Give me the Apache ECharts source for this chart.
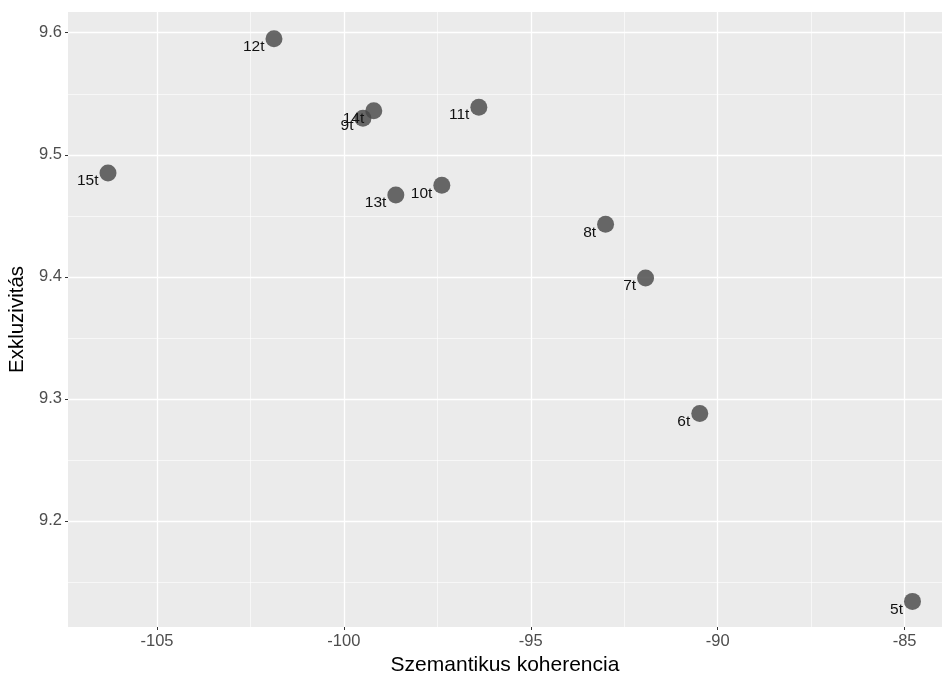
<!DOCTYPE html>
<html>
<head>
<meta charset="utf-8">
<script src="https://cdn.jsdelivr.net/npm/echarts@6/dist/echarts.min.js"></script>
<style>
  html, body { margin: 0; padding: 0; background: #ffffff; }
  #chart { width: 944px; height: 675px; }
</style>
</head>
<body>
<div id="chart"></div>
<script>
// Topic-model diagnostics: semantic coherence vs. exclusivity per number of topics
const topics      = ['5t', '6t', '7t', '8t', '9t', '10t', '11t', '12t', '13t', '14t', '15t'];
const coherence   = [-84.79, -90.48, -91.93, -93.00, -99.49, -97.38, -96.39, -101.87, -98.61, -99.20, -106.31];
const exclusivity = [9.134, 9.288, 9.399, 9.443, 9.530, 9.475, 9.539, 9.595, 9.467, 9.536, 9.485];

const xMajor = [-105, -100, -95, -90, -85];
const xMinor = [-102.5, -97.5, -92.5, -87.5];
const yMajor = [9.2, 9.3, 9.4, 9.5, 9.6];
const yMinor = [9.15, 9.25, 9.35, 9.45, 9.55];

const xRange = [-107.38, -84.0];
const yRange = [9.113, 9.617];

const points = topics.map((t, i) => ({ name: t, value: [coherence[i], exclusivity[i]] }));

const font = 'Liberation Sans, Arial, Helvetica, sans-serif';

const chart = echarts.init(document.getElementById('chart'), null, { renderer: 'canvas' });

// invisible companion axes that only carry the thin minor grid lines
const hiddenAxis = (range, minor) => ({
  type: 'value',
  min: range[0],
  max: range[1],
  axisLine: { show: false },
  axisLabel: { show: false },
  axisTick: { show: false, customValues: minor },
  splitLine: { show: true, lineStyle: { color: '#ffffff', width: 0.6 } }
});

chart.setOption({
  animation: false,
  backgroundColor: '#ffffff',
  grid: {
    left: 68, right: 2, top: 12, bottom: 48,
    outerBoundsMode: 'none',
    containLabel: false,
    show: true, backgroundColor: '#ebebeb', borderWidth: 0
  },
  xAxis: [
    {
      type: 'value',
      min: xRange[0],
      max: xRange[1],
      name: 'Szemantikus koherencia',
      nameLocation: 'middle',
      nameGap: 23,
      nameTextStyle: { color: '#000000', fontSize: 21, fontFamily: font },
      axisLine: { show: false },
      axisTick: { show: true, length: 3, customValues: xMajor, lineStyle: { color: '#333333', width: 1 } },
      axisLabel: {
        customValues: xMajor, margin: 6, color: '#4d4d4d', fontSize: 16.5, fontFamily: font,
        formatter: v => String(v)
      },
      splitLine: { show: true, lineStyle: { color: '#ffffff', width: 1.3 } }
    },
    hiddenAxis(xRange, xMinor)
  ],
  yAxis: [
    {
      type: 'value',
      min: yRange[0],
      max: yRange[1],
      name: 'Exkluzivitás',
      nameLocation: 'middle',
      nameGap: 35,
      nameRotate: 90,
      nameTextStyle: { color: '#000000', fontSize: 20.5, fontFamily: font },
      axisLine: { show: false },
      axisTick: { show: true, length: 3, customValues: yMajor, lineStyle: { color: '#333333', width: 1 } },
      axisLabel: {
        customValues: yMajor, margin: 6, color: '#4d4d4d', fontSize: 16.5, fontFamily: font,
        formatter: v => v.toFixed(1)
      },
      splitLine: { show: true, lineStyle: { color: '#ffffff', width: 1.3 } }
    },
    hiddenAxis(yRange, yMinor)
  ],
  series: [{
    type: 'scatter',
    xAxisIndex: 0,
    yAxisIndex: 0,
    data: points,
    symbol: 'circle',
    symbolSize: 17,
    itemStyle: { color: 'rgba(72,72,72,0.82)', opacity: 1 },
    label: {
      show: true,
      position: 'left',
      distance: 1,
      offset: [0, 8],
      formatter: '{b}',
      color: '#111111',
      fontSize: 15.5,
      fontFamily: font
    },
    emphasis: { disabled: true }
  }]
});
</script>
</body>
</html>
